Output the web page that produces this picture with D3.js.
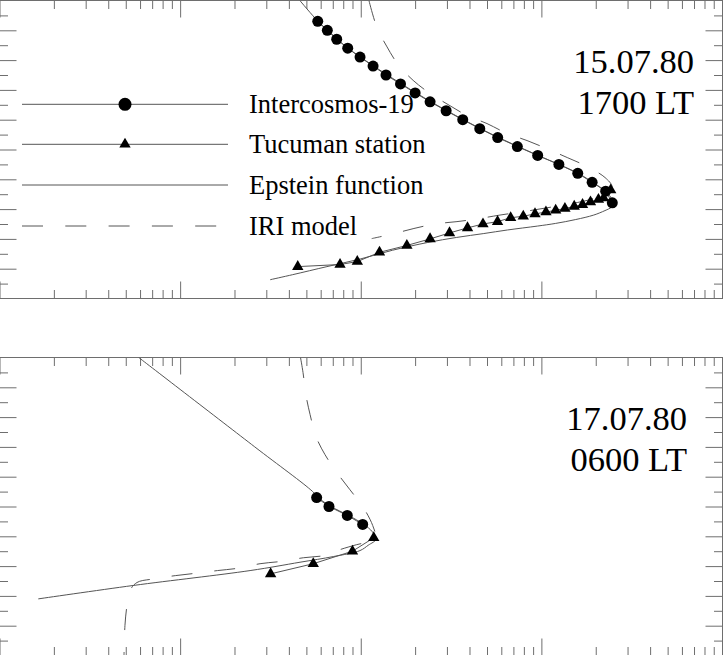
<!DOCTYPE html>
<html>
<head>
<meta charset="utf-8">
<script src="https://cdn.jsdelivr.net/npm/d3@7"></script>
<style>
  html, body { margin: 0; padding: 0; background: #fff; overflow: hidden; }
  svg { display: block; }
  text { font-family: "Liberation Serif", "Times New Roman", serif; fill: #000; }
</style>
</head>
<body>
<svg id="chart" width="723" height="655"></svg>
<script>
'use strict';

// altitude (km) and electron density (cm^-3)

// 15.07.80, 1700 LT
const ic1Alt = [1030, 1000, 970, 940, 910, 880, 850, 820, 790, 760, 730, 700, 670, 640, 610, 580, 550, 520, 490, 460, 421];
const ic1Ne  = [5.78e4, 6.53e4, 7.36e4, 8.47e4, 9.91e4, 1.17e5, 1.38e5, 1.66e5, 2.0e5, 2.42e5, 2.97e5, 3.67e5, 4.56e5, 5.73e5, 7.36e5, 9.54e5, 1.25e6, 1.59e6, 1.91e6, 2.27e6, 2.47e6];

const tuc1Alt = [207, 214, 224, 255, 278, 300, 320, 337, 350, 358, 371, 376, 384, 390, 396, 402, 409, 415, 424, 432, 437, 464];
const tuc1Ne  = [4.48e4, 7.68e4, 9.57e4, 1.27e5, 1.8e5, 2.42e5, 3.1e5, 3.9e5, 4.75e5, 5.72e5, 6.76e5, 7.94e5, 9.22e5, 1.06e6, 1.2e6, 1.35e6, 1.52e6, 1.69e6, 1.87e6, 2.07e6, 2.21e6, 2.42e6];

const ep1Alt = [1100, 1030, 1000, 940, 880, 820, 760, 700, 640, 580, 520, 490, 460, 440, 425, 412, 406, 395, 380, 365, 352, 343, 330, 318, 305, 288, 262, 233, 207, 180, 163];
const ep1Ne  = [4.6e4, 5.8e4, 6.55e4, 8.5e4, 1.18e5, 1.68e5, 2.45e5, 3.7e5, 5.8e5, 9.6e5, 1.6e6, 1.92e6, 2.27e6, 2.42e6, 2.5e6, 2.52e6, 2.45e6, 2.25e6, 1.95e6, 1.55e6, 1.2e6, 9.5e5, 6.5e5, 4.8e5, 3.4e5, 2.35e5, 1.5e5, 1.0e5, 6.5e4, 4.2e4, 3.15e4];

const iri1Alt = [1100, 1009, 947, 885, 832, 788, 751, 714, 687, 654, 630, 603, 573, 543, 506, 476, 456, 432, 412, 395, 380, 367, 358, 350, 335, 317, 301];
const iri1Ne  = [1.11e5, 1.23e5, 1.39e5, 1.61e5, 1.95e5, 2.42e5, 3.04e5, 3.88e5, 5.0e5, 6.45e5, 8.33e5, 1.07e6, 1.39e6, 1.79e6, 2.25e6, 2.46e6, 2.34e6, 1.86e6, 1.27e6, 8.65e5, 5.9e5, 4.4e5, 3.41e5, 2.58e5, 1.97e5, 1.51e5, 1.15e5];

// 17.07.80, 0600 LT
const ic2Alt = [630, 600, 570, 540];
const ic2Ne  = [5.7e4, 6.67e4, 8.42e4, 1.025e5];

const tuc2Alt = [495, 450, 408, 374];
const tuc2Ne  = [1.18e5, 9.0e4, 5.46e4, 3.17e4];

const ep2Alt = [1100, 800, 650, 630, 600, 570, 540, 515, 491, 470, 452, 432, 413, 385, 335, 290];
const ep2Ne  = [5.9e3, 2.59e4, 5.42e4, 5.8e4, 6.85e4, 8.55e4, 1.04e5, 1.16e5, 1.22e5, 1.1e5, 9.9e4, 7.05e4, 4.61e4, 2.44e4, 5.5e3, 1.64e3];

const iri2Alt = [1100, 1050, 972, 909, 835, 774, 712, 656, 598, 536, 496, 483, 472, 452, 436, 428, 416, 408, 393, 385, 376, 368, 357, 345, 318, 268, 201, 100];
const iri2Ne  = [4.64e4, 4.79e4, 4.98e4, 5.24e4, 5.65e4, 6.34e4, 7.42e4, 8.72e4, 1.03e5, 1.165e5, 1.207e5, 1.125e5, 9.5e4, 7.39e4, 6.34e4, 4.81e4, 3.65e4, 2.77e4, 2.1e4, 1.61e4, 1.22e4, 9.4e3, 7.1e3, 5.77e3, 5.28e3, 5.08e3, 4.95e3, 4.89e3];

const legendLabels = ["Intercosmos-19", "Tucuman station", "Epstein function", "IRI model"];

const svg = d3.select("#chart");
const axisColor = "#6e6e6e",
    lineColor = "#555";

const x = d3.scaleLog().domain([1e3, 1e7]).range([-0.5, 722]);

const xMajor = [1e3, 1e4, 1e5, 1e6, 1e7];
const xMinor = d3.merge([1e3, 1e4, 1e5, 1e6].map(d => d3.range(2, 10).map(m => m * d)));
const yMajor = d3.range(200, 1100, 100);
const yMinor = d3.range(150, 1100, 100);

const panels = [
    { top: 0.5, bottom: 298.5, date: "15.07.80", time: "1700 LT", labelX: 694, legend: true,
      ic: d3.zip(ic1Alt, ic1Ne), tuc: d3.zip(tuc1Alt, tuc1Ne), ep: d3.zip(ep1Alt, ep1Ne), iri: d3.zip(iri1Alt, iri1Ne) },
    { top: 357.5, bottom: 655.5, date: "17.07.80", time: "0600 LT", labelX: 687, legend: false,
      ic: d3.zip(ic2Alt, ic2Ne), tuc: d3.zip(tuc2Alt, tuc2Ne), ep: d3.zip(ep2Alt, ep2Ne), iri: d3.zip(iri2Alt, iri2Ne) }
];

const triangle = d3.symbol().type(d3.symbolTriangle).size(56);

panels.forEach((p, i) => {
    const y = d3.scaleLinear().domain([100, 1100]).range([p.bottom, p.top]);
    const g = svg.append("g");

    g.append("clipPath").attr("id", "clip" + i)
        .append("rect")
        .attr("x", -1).attr("y", p.top)
        .attr("width", 723.5).attr("height", p.bottom - p.top);

    // ticks on all four sides, pointing inwards
    const tickAxes = [
        [d3.axisLeft(y), `translate(-0.5,0)`, yMajor, yMinor],
        [d3.axisRight(y), `translate(722.5,0)`, yMajor, yMinor],
        [d3.axisTop(x), `translate(0,${p.top})`, xMajor, xMinor],
        [d3.axisBottom(x), `translate(0,${p.bottom})`, xMajor, xMinor]
    ];
    tickAxes.forEach(([axis, tr, major, minor]) => {
        [[major, -17], [minor, -8.5]].forEach(([vals, size]) => {
            g.append("g")
                .attr("transform", tr)
                .attr("color", axisColor)
                .call(axis.tickValues(vals).tickSize(size).tickFormat(""))
                .call(a => a.select(".domain").remove());
        });
    });

    // frame
    g.append("rect")
        .attr("x", -0.5).attr("y", p.top)
        .attr("width", 723).attr("height", p.bottom - p.top)
        .attr("fill", "none")
        .attr("stroke", axisColor);

    const plot = g.append("g").attr("clip-path", `url(#clip${i})`);

    const straight = d3.line().x(d => x(d[1])).y(d => y(d[0]));
    const smooth = d3.line().x(d => x(d[1])).y(d => y(d[0])).curve(d3.curveCatmullRom.alpha(0.5));

    plot.append("path")
        .attr("d", smooth(p.iri))
        .attr("fill", "none")
        .attr("stroke", lineColor)
        .attr("stroke-dasharray", "21,22");

    plot.append("path")
        .attr("d", smooth(p.ep))
        .attr("fill", "none")
        .attr("stroke", lineColor);

    [p.ic, p.tuc].forEach(s => {
        plot.append("path")
            .attr("d", straight(s))
            .attr("fill", "none")
            .attr("stroke", lineColor);
    });

    plot.selectAll(".tuc")
        .data(p.tuc)
        .enter().append("path")
        .attr("class", "tuc")
        .attr("transform", d => `translate(${x(d[1])},${y(d[0])})`)
        .attr("d", triangle)
        .attr("fill", "#000");

    plot.selectAll(".ic")
        .data(p.ic)
        .enter().append("circle")
        .attr("class", "ic")
        .attr("cx", d => x(d[1]))
        .attr("cy", d => y(d[0]))
        .attr("r", 5.5)
        .attr("fill", "#000");

    g.append("text")
        .attr("x", p.labelX).attr("y", p.top + 72.3)
        .attr("text-anchor", "end")
        .style("font-size", "34.5px")
        .text(p.date);
    g.append("text")
        .attr("x", p.labelX).attr("y", p.top + 113.3)
        .attr("text-anchor", "end")
        .style("font-size", "34.5px")
        .text(p.time);

    if (p.legend) {
        const rows = [104.3, 144.3, 185, 226];
        const lg = g.append("g");
        rows.forEach((ry, k) => {
            lg.append("line")
                .attr("x1", 22).attr("x2", 228)
                .attr("y1", ry).attr("y2", ry)
                .attr("stroke", lineColor)
                .attr("stroke-dasharray", k === 3 ? "21,22.3" : null);
            lg.append("text")
                .attr("x", 249).attr("y", ry + 9)
                .style("font-size", "26.5px")
                .text(legendLabels[k]);
        });
        lg.append("circle").attr("cx", 125).attr("cy", rows[0]).attr("r", 6.5).attr("fill", "#000");
        lg.append("path").attr("transform", `translate(125,${rows[1]})`).attr("d", triangle).attr("fill", "#000");
    }
});
</script>
</body>
</html>
